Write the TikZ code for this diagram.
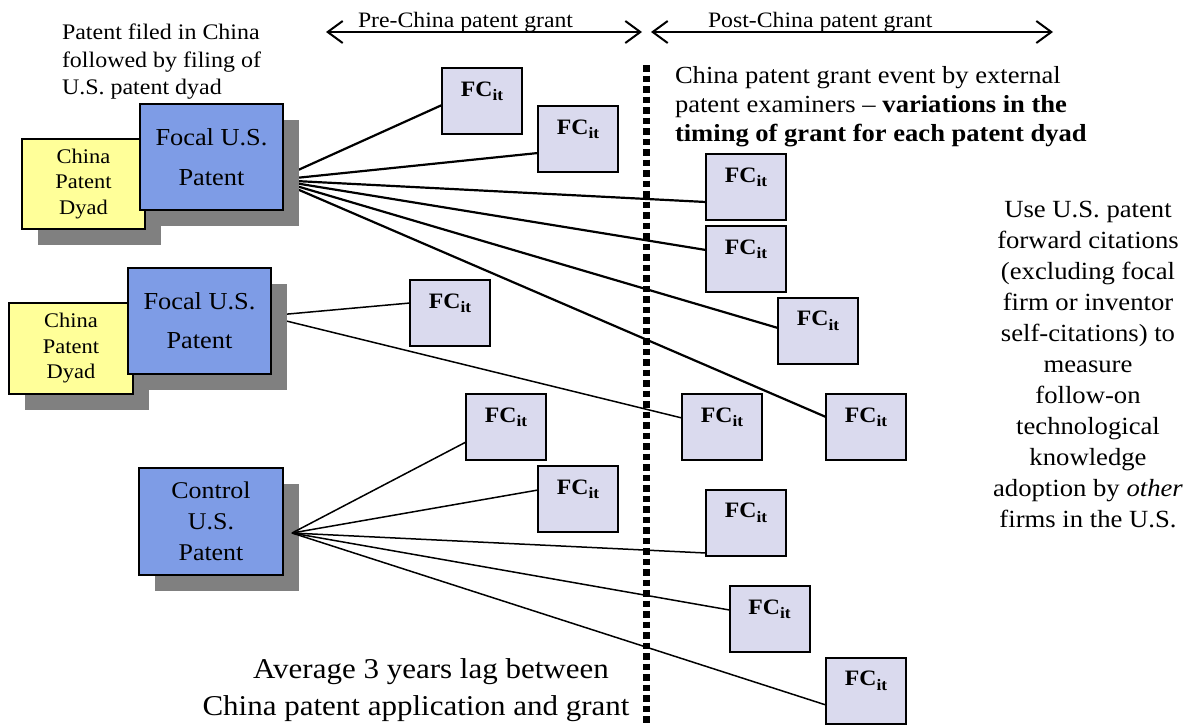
\documentclass[tikz,border=0pt]{standalone}
\usepackage{fontspec}
\setmainfont[FakeStretch=1.08]{Liberation Serif}
\usetikzlibrary{arrows.meta}
\definecolor{bluebox}{RGB}{126,156,230}
\definecolor{yelbox}{RGB}{255,255,153}
\definecolor{fcfill}{RGB}{218,218,238}
\definecolor{shadowgray}{RGB}{128,128,128}
\newcommand{\fs}[2]{\fontsize{#1}{#2}\selectfont}
\newcommand{\fcnode}[3]{%
  \node[fcbox] (#1) at (#2,#3) {};
  \node[fctext] (#1t) at ([yshift=-28pt]#1.north) {FC\raisebox{-4.5pt}{\fs{16}{16}\bfseries it}};
}
\begin{document}
\begin{tikzpicture}[x=1pt,y=-1pt,
  shadowbox/.style={rectangle, fill=shadowgray, draw=none, inner sep=0pt, outer sep=0pt},
  bluenode/.style={rectangle, fill=bluebox, draw=black, line width=2.3pt, inner sep=0pt, outer sep=0pt, align=center},
  yelnode/.style={rectangle, fill=yelbox, draw=black, line width=2.3pt, inner sep=0pt, outer sep=0pt, align=center},
  fcbox/.style={rectangle, fill=fcfill, draw=black, line width=2pt, inner sep=0pt, outer sep=0pt, minimum width=80pt, minimum height=66pt},
  fctext/.style={anchor=base, inner sep=0pt, font=\fs{22}{22}\bfseries},
  thickline/.style={line width=2.2pt},
  thinline/.style={line width=1.5pt},
  dotline/.style={line width=7pt, dash pattern=on 6.5pt off 4pt},
  spanarrow/.style={line width=2pt, {Straight Barb[length=15pt,width=22pt,line width=2pt]}-{Straight Barb[length=15pt,width=22pt,line width=2pt]}},
  plaintext/.style={inner sep=0pt, outer sep=0pt}
]
\useasboundingbox (0,0) rectangle (1194,724);

% origins of connector fans
\coordinate (o1) at (276,180);
\coordinate (o2) at (266,316);
\coordinate (o3) at (292,533);

% FC boxes
\fcnode{f1}{482}{101}
\fcnode{f2}{578}{139}
\fcnode{f3}{746}{187}
\fcnode{f4}{746}{259}
\fcnode{f5}{818}{330.5}
\fcnode{f6}{866}{427}
\fcnode{f7}{450}{313}
\fcnode{f8}{722}{427}
\fcnode{f9}{506}{427}
\fcnode{f10}{578}{499}
\fcnode{f11}{746}{522.5}
\fcnode{f12}{769.5}{619}
\fcnode{f13}{866}{690.5}

% connectors of focal patent 1 and 2 (behind boxes)
\draw[thickline] (o1) -- ([yshift=-4pt]f1.west);
\draw[thickline] (o1) -- ([yshift=-14pt]f2.west);
\draw[thickline] (o1) -- ([yshift=-15pt]f3.west);
\draw[thickline] (o1) -- ([yshift=9pt]f4.west);
\draw[thickline] (o1) -- ([yshift=2.5pt]f5.west);
\draw[thickline] (o1) -- ([yshift=10pt]f6.west);
\draw[thinline] (o2) -- ([yshift=10pt]f7.west);
\draw[thinline] (o2) -- ([yshift=9pt]f8.west);

% focal patent 1 group
\node[shadowbox, minimum width=123pt, minimum height=90pt] (y1s) at (99.5,200) {};
\node[yelnode, minimum width=123pt, minimum height=90pt, font=\fs{20.8}{25.5}] (y1) at (83.5,184) {China\\Patent\\Dyad};
\node[shadowbox, minimum width=143pt, minimum height=106pt] (b1s) at (227.5,173) {};
\node[bluenode, minimum width=143pt, minimum height=106pt, font=\fs{24.4}{40}] (b1) at (211.5,157) {Focal U.S.\\Patent};

% focal patent 2 group
\node[shadowbox, minimum width=124pt, minimum height=91pt] (y2s) at (87,364.5) {};
\node[yelnode, minimum width=124pt, minimum height=91pt, font=\fs{20.8}{25.5}] (y2) at (71,348.5) {China\\Patent\\Dyad};
\node[shadowbox, minimum width=143pt, minimum height=106pt] (b2s) at (215.5,337) {};
\node[bluenode, minimum width=143pt, minimum height=106pt, font=\fs{24.4}{39}] (b2) at (199.5,321) {Focal U.S.\\Patent};

% control patent
\node[shadowbox, minimum width=144pt, minimum height=107pt] (cs) at (227,537.5) {};
\node[bluenode, minimum width=144pt, minimum height=107pt, font=\fs{24}{31}] (c) at (211,521.5) {Control\\U.S.\\Patent};

% connectors of control patent
\draw[thinline] (o3) -- ([yshift=-15pt]f9.west);
\draw[thinline] (o3) -- ([yshift=9pt]f10.west);
\draw[thinline] (o3) -- ([yshift=-30.5pt]f11.west);
\draw[thinline] (o3) -- ([yshift=9pt]f12.west);
\draw[thinline] (o3) -- ([yshift=-14.5pt]f13.west);

% dotted grant line
\coordinate (dtop) at (646,65);
\coordinate (dbot) at (646,724);
\draw[dotline] (dtop) -- (dbot);

% period arrows
\coordinate (a1) at (326,32);
\coordinate (a2) at (642,32);
\coordinate (a3) at (651,32);
\coordinate (a4) at (1053,32);
\draw[spanarrow] (a1) -- (a2);
\draw[spanarrow] (a3) -- (a4);
\node[plaintext, anchor=base west, font=\fs{22}{22}] (prelab) at (358,27) {Pre-China patent grant};
\node[plaintext, anchor=base west, font=\fs{22}{22}] (postlab) at (708,27) {Post-China patent grant};

% texts
\node[plaintext, anchor=north west, align=left, font=\fs{22.2}{27.5}] (caption) at (62,24) {Patent filed in China\\followed by filing of\\U.S. patent dyad};
\node[plaintext, anchor=north west, align=left, font=\fs{24.6}{29}] (event) at (675,66) {China patent grant event by external\\patent examiners -- \textbf{variations in the}\\\textbf{timing of grant for each patent dyad}};
\node[plaintext, anchor=north, align=center, font=\fs{24.7}{31}] (measure) at (1088,201) {Use U.S. patent\\forward citations\\(excluding focal\\firm or inventor\\self-citations) to\\measure\\follow-on\\technological\\knowledge\\adoption by \textit{other}\\firms in the U.S.};
\node[plaintext, anchor=north, align=center, font=\fs{28.7}{37}] (lag) at (416,659) {\hspace*{30pt}Average 3 years lag between\\China patent application and grant};
\end{tikzpicture}
\end{document}
